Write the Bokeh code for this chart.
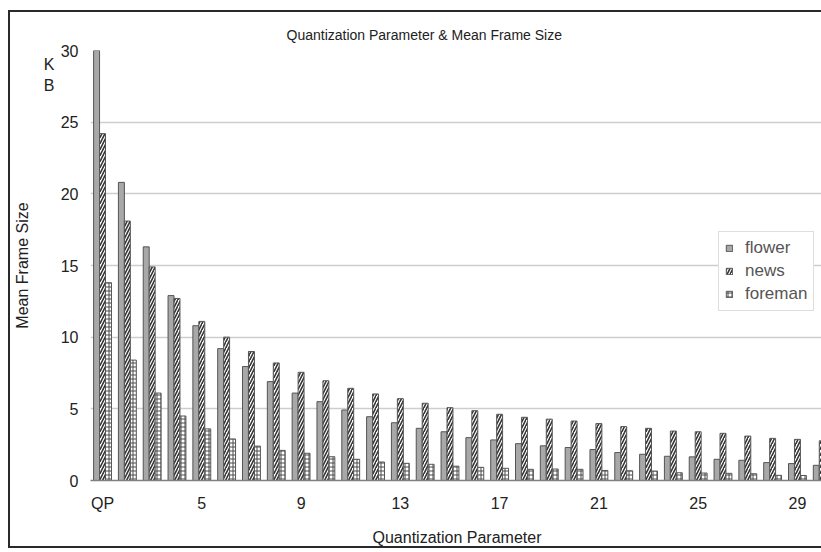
from bokeh.plotting import figure
from bokeh.models import (Range1d, FixedTicker, LinearAxis, Legend, LegendItem,
                          ColumnDataSource, Title)
from bokeh.transform import dodge
from bokeh.embed import file_html
from bokeh.resources import INLINE

# Mean frame size (KB) per quantization parameter for three test sequences
qp = list(range(1, 31))
flower = [30.0, 20.8, 16.3, 12.9, 10.8, 9.2, 7.95, 6.9, 6.1, 5.5,
          4.92, 4.45, 4.03, 3.64, 3.4, 2.99, 2.83, 2.57, 2.42, 2.3,
          2.16, 1.95, 1.83, 1.69, 1.65, 1.48, 1.41, 1.25, 1.18, 1.06]
news = [24.2, 18.1, 14.9, 12.7, 11.1, 10.0, 9.0, 8.2, 7.55, 6.96,
        6.43, 6.04, 5.71, 5.39, 5.08, 4.87, 4.62, 4.41, 4.28, 4.15,
        3.97, 3.76, 3.64, 3.45, 3.4, 3.29, 3.1, 2.94, 2.87, 2.77]
foreman = [13.8, 8.4, 6.1, 4.5, 3.6, 2.9, 2.4, 2.1, 1.9, 1.66,
           1.48, 1.29, 1.2, 1.13, 1.0, 0.92, 0.85, 0.78, 0.8, 0.78,
           0.7, 0.68, 0.66, 0.54, 0.52, 0.5, 0.47, 0.36, 0.35, 0.32]
x_ticks = [1, 5, 9, 13, 17, 21, 25, 29]
y_ticks = [0, 5, 10, 15, 20, 25, 30]

src = ColumnDataSource(dict(qp=qp, flower=flower, news=news, foreman=foreman))

FONT = "Liberation Sans"
INK = "#222222"

p = figure(width=813, height=538, output_backend="svg", toolbar_location=None,
           x_range=Range1d(0.515, 30.05), y_range=Range1d(0, 30),
           min_border_left=80, min_border_right=0, min_border_top=38,
           min_border_bottom=70, background_fill_color="white",
           border_fill_color="white", outline_line_color=None,
           title=None)
# dark frame on the left, top and bottom of the chart
p.styles = {"margin": "10px 0px 0px 8px",
            "border-left": "2px solid #2a2a2a",
            "border-top": "2px solid #2a2a2a",
            "border-bottom": "2px solid #2a2a2a",
            "border-right": "none"}

bw = 0.24
r_flower = p.vbar(x=dodge("qp", -0.24, range=p.x_range), top="flower", width=bw,
                  source=src, fill_color="#a8a8a8", line_color="#555555", line_width=1)
r_news = p.vbar(x=dodge("qp", 0.0, range=p.x_range), top="news", width=bw,
                source=src, fill_color="white", line_color="#555555", line_width=1,
                hatch_pattern="right_diagonal_line", hatch_color="#333333",
                hatch_scale=6, hatch_weight=1.6)
r_fore = p.vbar(x=dodge("qp", 0.24, range=p.x_range), top="foreman", width=bw,
                source=src, fill_color="white", line_color="#555555", line_width=1,
                hatch_pattern="cross", hatch_color="#4a4a4a",
                hatch_scale=4, hatch_weight=1)

# x axis
p.xaxis.ticker = FixedTicker(ticks=x_ticks)
p.xaxis.major_label_overrides = {1: "QP"}
p.xaxis.axis_line_color = "#808080"
p.xaxis.axis_line_width = 1.5
p.xaxis.major_tick_line_color = None
p.xaxis.minor_tick_line_color = None
p.xaxis.major_label_standoff = 8
p.xaxis.major_label_text_font = FONT
p.xaxis.major_label_text_font_size = "16px"
p.xaxis.major_label_text_color = INK
p.xaxis.axis_label = "Quantization Parameter"
p.xaxis.axis_label_standoff = 14
p.xaxis.axis_label_text_font = FONT
p.xaxis.axis_label_text_font_size = "16px"
p.xaxis.axis_label_text_font_style = "normal"
p.xaxis.axis_label_text_color = INK

# value axis
p.yaxis.ticker = FixedTicker(ticks=y_ticks)
p.yaxis.axis_line_color = None
p.yaxis.major_tick_line_color = None
p.yaxis.minor_tick_line_color = None
p.yaxis.major_label_standoff = 6
p.yaxis.major_label_text_font = FONT
p.yaxis.major_label_text_font_size = "16px"
p.yaxis.major_label_text_color = INK

# unit axis: "K / B" next to the top of the scale, carrying the axis title
unit_axis = LinearAxis(ticker=FixedTicker(ticks=[28.3]),
                       major_label_overrides={28.3: "K\nB"},
                       axis_line_color=None, major_tick_line_color=None,
                       minor_tick_line_color=None, major_label_standoff=-3,
                       major_label_text_font=FONT, major_label_text_font_size="16px",
                       major_label_text_color=INK, major_label_text_align="center",
                       major_label_text_line_height=1.2,
                       axis_label="Mean Frame Size", axis_label_standoff=10,
                       axis_label_text_font=FONT, axis_label_text_font_size="16px",
                       axis_label_text_font_style="normal", axis_label_text_color=INK)
p.add_layout(unit_axis, "left")

p.xgrid.grid_line_color = None
p.ygrid.grid_line_color = "#cdcdcd"
p.ygrid.grid_line_width = 1.5

# chart title
p.add_layout(Title(text="Quantization Parameter & Mean Frame Size", align="left",
                   offset=196, standoff=16, text_font=FONT, text_font_size="14px",
                   text_font_style="normal", text_color=INK), "above")

# legend
legend = Legend(items=[LegendItem(label="flower", renderers=[r_flower]),
                       LegendItem(label="news", renderers=[r_news]),
                       LegendItem(label="foreman", renderers=[r_fore])],
                location=(628, 169), orientation="vertical",
                glyph_width=8, glyph_height=8, label_height=18,
                label_standoff=12, spacing=3, padding=6, margin=0,
                label_text_font=FONT, label_text_font_size="17px",
                label_text_color="#555555", border_line_color="#bdbdbd",
                border_line_width=1, background_fill_color="white",
                background_fill_alpha=1)
p.add_layout(legend)

open("out.html", "w").write(file_html(p, INLINE))
